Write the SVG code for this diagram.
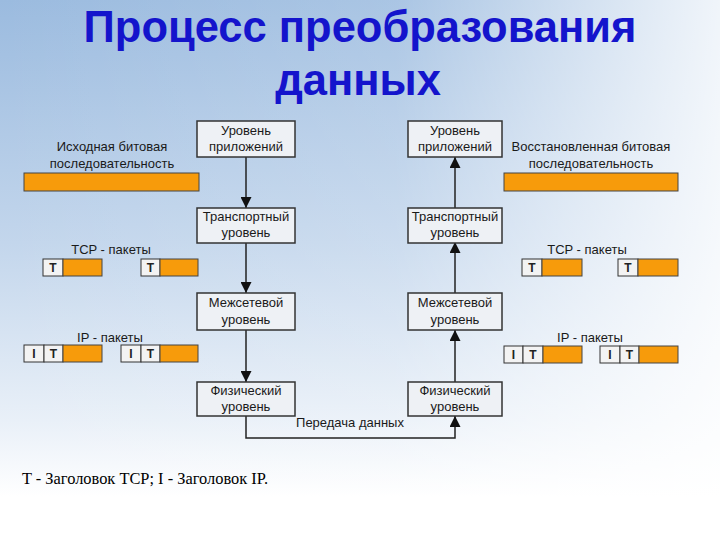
<svg xmlns="http://www.w3.org/2000/svg" width="720" height="540" viewBox="0 0 720 540">
<defs>
<linearGradient id="bgv" x1="0" y1="0" x2="0" y2="1">
<stop offset="0" stop-color="#9bbbdf"/>
<stop offset="0.45" stop-color="#c3d6ec"/>
<stop offset="0.78" stop-color="#e9f0f8"/>
<stop offset="0.92" stop-color="#ffffff"/>
</linearGradient>
<linearGradient id="bgh" x1="0" y1="0" x2="1" y2="0">
<stop offset="0" stop-color="#ffffff" stop-opacity="0"/>
<stop offset="0.55" stop-color="#ffffff" stop-opacity="0.15"/>
<stop offset="1" stop-color="#ffffff" stop-opacity="0.85"/>
</linearGradient>
<marker id="ah" viewBox="0 0 10 10" refX="10" refY="5" markerWidth="11" markerHeight="11" markerUnits="userSpaceOnUse" orient="auto">
<path d="M0,0 L10,5 L0,10 Z" fill="#111"/>
</marker>
<style>
.title{font-family:"Liberation Sans",Arial,sans-serif;font-weight:bold;font-size:43.5px;fill:#1414cc;text-anchor:middle}
.box{fill:#eef1f5;stroke:#333;stroke-width:1.5}
.bt{font-family:"Liberation Sans",Arial,sans-serif;font-size:13px;fill:#1a1a1a;text-anchor:middle}
.cell{fill:#f3f3f3;stroke:#333;stroke-width:1}
.or{fill:#f79b0b;stroke:#444;stroke-width:1}
.ct{font-family:"Liberation Sans",Arial,sans-serif;font-size:12px;font-weight:bold;fill:#222;text-anchor:middle}
.conn{fill:none;stroke:#222;stroke-width:1.5}
.cap{font-family:"Liberation Serif","Times New Roman",serif;font-size:16.4px;fill:#000}
</style>
</defs>
<rect width="720" height="540" fill="url(#bgv)"/>
<rect width="720" height="540" fill="url(#bgh)"/>

<text class="title" x="360" y="42">Процесс преобразования</text>
<text class="title" x="358" y="95">данных</text>

<g id="connectors">
<line class="conn" x1="246" y1="157" x2="246" y2="208" marker-end="url(#ah)"/>
<line class="conn" x1="246" y1="243" x2="246" y2="293" marker-end="url(#ah)"/>
<line class="conn" x1="246" y1="330" x2="246" y2="382" marker-end="url(#ah)"/>
<line class="conn" x1="455" y1="209" x2="455" y2="157" marker-end="url(#ah)"/>
<line class="conn" x1="455" y1="293" x2="455" y2="242" marker-end="url(#ah)"/>
<line class="conn" x1="455" y1="382" x2="455" y2="330" marker-end="url(#ah)"/>
<polyline class="conn" points="246,416 246,438 455,438 455,416" marker-end="url(#ah)"/>
<text class="bt" x="350" y="427">Передача данных</text>
</g>

<g id="app-left"><rect class="box" x="197" y="121" width="98" height="36"/><text class="bt" x="246" y="135">Уровень</text><text class="bt" x="246" y="151">приложений</text></g>
<g id="transport-left"><rect class="box" x="197" y="208" width="98" height="35"/><text class="bt" x="246" y="221">Транспортный</text><text class="bt" x="246" y="237">уровень</text></g>
<g id="inter-left"><rect class="box" x="197" y="293" width="98" height="37"/><text class="bt" x="246" y="307">Межсетевой</text><text class="bt" x="246" y="324">уровень</text></g>
<g id="phys-left"><rect class="box" x="197" y="382" width="98" height="34"/><text class="bt" x="246" y="395">Физический</text><text class="bt" x="246" y="411">уровень</text></g>

<g id="app-right"><rect class="box" x="408" y="121" width="94" height="36"/><text class="bt" x="455" y="135">Уровень</text><text class="bt" x="455" y="151">приложений</text></g>
<g id="transport-right"><rect class="box" x="408" y="208" width="94" height="35"/><text class="bt" x="455" y="221">Транспортный</text><text class="bt" x="455" y="237">уровень</text></g>
<g id="inter-right"><rect class="box" x="408" y="293" width="94" height="37"/><text class="bt" x="455" y="307">Межсетевой</text><text class="bt" x="455" y="324">уровень</text></g>
<g id="phys-right"><rect class="box" x="408" y="382" width="94" height="34"/><text class="bt" x="455" y="395">Физический</text><text class="bt" x="455" y="411">уровень</text></g>

<g id="source-bits">
<text class="bt" x="112" y="151">Исходная битовая</text>
<text class="bt" x="112" y="168">последовательность</text>
<rect class="or" x="24" y="173" width="175" height="18"/>
</g>
<g id="restored-bits">
<text class="bt" x="591" y="151">Восстановленная битовая</text>
<text class="bt" x="591" y="168">последовательность</text>
<rect class="or" x="504" y="173" width="174" height="18"/>
</g>

<g id="tcp-left">
<text class="bt" x="111" y="254">TCP - пакеты</text>
<rect class="cell" x="43" y="259" width="20" height="17"/><rect class="or" x="63" y="259" width="39" height="17"/><text class="ct" x="53" y="272">T</text>
<rect class="cell" x="141" y="259" width="19" height="17"/><rect class="or" x="160" y="259" width="38" height="17"/><text class="ct" x="150.5" y="272">T</text>
</g>
<g id="tcp-right">
<text class="bt" x="587" y="254">TCP - пакеты</text>
<rect class="cell" x="522" y="259" width="20" height="17"/><rect class="or" x="542" y="259" width="40" height="17"/><text class="ct" x="532" y="272">T</text>
<rect class="cell" x="618" y="259" width="20" height="17"/><rect class="or" x="638" y="259" width="40" height="17"/><text class="ct" x="628" y="272">T</text>
</g>

<g id="ip-left">
<text class="bt" x="110" y="342">IP - пакеты</text>
<rect class="cell" x="24" y="345" width="20" height="17"/><rect class="cell" x="44" y="345" width="19" height="17"/><rect class="or" x="63" y="345" width="39" height="17"/>
<text class="ct" x="34" y="358">I</text><text class="ct" x="53.5" y="358">T</text>
<rect class="cell" x="121" y="345" width="20" height="17"/><rect class="cell" x="141" y="345" width="19" height="17"/><rect class="or" x="160" y="345" width="38" height="17"/>
<text class="ct" x="131" y="358">I</text><text class="ct" x="150.5" y="358">T</text>
</g>
<g id="ip-right">
<text class="bt" x="590" y="342">IP - пакеты</text>
<rect class="cell" x="504" y="346" width="19" height="17"/><rect class="cell" x="523" y="346" width="20" height="17"/><rect class="or" x="543" y="346" width="39" height="17"/>
<text class="ct" x="513.5" y="359">I</text><text class="ct" x="533" y="359">T</text>
<rect class="cell" x="600" y="346" width="20" height="17"/><rect class="cell" x="620" y="346" width="19" height="17"/><rect class="or" x="639" y="346" width="39" height="17"/>
<text class="ct" x="610" y="359">I</text><text class="ct" x="629.5" y="359">T</text>
</g>

<text class="cap" x="22" y="484">T - Заголовок TCP; I - Заголовок IP.</text>
</svg>
